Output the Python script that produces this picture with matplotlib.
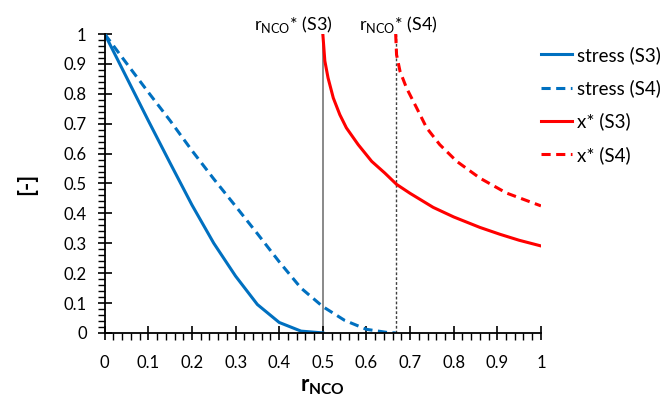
import matplotlib
matplotlib.use("Agg")
import matplotlib.pyplot as plt
from matplotlib.ticker import MultipleLocator

plt.rcParams["font.family"] = ["Lato", "DejaVu Sans"]

# values
r_s3 = [0.0, 0.05, 0.1, 0.15, 0.2, 0.25, 0.3, 0.35, 0.4, 0.45, 0.5]
stress_s3 = [1.0, 0.855, 0.71, 0.568, 0.428, 0.30, 0.19, 0.095, 0.035, 0.006, 0.0]

r_s4 = [0.0, 0.05, 0.1, 0.15, 0.2, 0.25, 0.3, 0.35, 0.4, 0.45, 0.5, 0.55, 0.6, 0.65, 0.667]
stress_s4 = [1.0, 0.902, 0.805, 0.71, 0.61, 0.515, 0.424, 0.332, 0.238, 0.15, 0.088, 0.042,
             0.012, 0.001, 0.0]

rx_s3 = [0.5, 0.5046, 0.512, 0.524, 0.539, 0.554, 0.581, 0.612, 0.642, 0.669, 0.7, 0.753,
         0.8, 0.86, 0.906, 0.95, 1.0]
xstar_s3 = [1.0, 0.91, 0.853, 0.786, 0.73, 0.686, 0.63, 0.574, 0.535, 0.497, 0.467, 0.42,
            0.388, 0.353, 0.33, 0.31, 0.291]

rx_s4 = [0.667, 0.669, 0.677, 0.692, 0.715, 0.738, 0.768, 0.807, 0.86, 0.921, 1.0]
xstar_s4 = [1.0, 0.931, 0.875, 0.819, 0.753, 0.686, 0.63, 0.574, 0.518, 0.468, 0.425]

r_crit = [0.5, 0.667]
crit_labels = [r"r$_{\mathregular{NCO}}$* (S3)", r"r$_{\mathregular{NCO}}$* (S4)"]
label_x = [0.432, 0.674]

blue = "#0070C0"
red = "#FF0000"

fig = plt.figure(figsize=(6.67, 4.05), dpi=100)
ax = fig.add_axes([0.157, 0.178, 0.654, 0.738])

kw = dict(lw=2.2, solid_joinstyle="round", dash_joinstyle="round")
ax.plot(r_s3, stress_s3, color=blue, label="stress (S3)", **kw)
ax.plot(r_s4, stress_s4, color=blue, ls=(0, (3, 1.8)), label="stress (S4)", **kw)
ax.plot(rx_s3, xstar_s3, color=red, label="x* (S3)", **kw)
ax.plot(rx_s4, xstar_s4, color=red, ls=(0, (3, 1.8)), label="x* (S4)", **kw)

ax.plot([r_crit[0]] * 2, [0, 1], color="#808080", lw=1.3, zorder=1)
ax.plot([r_crit[1]] * 2, [0, 1], color="#404040", lw=1, ls=(0, (2, 1.5)), zorder=1)
for lx, lab in zip(label_x, crit_labels):
    ax.text(lx, 1.033, lab, ha="center", va="center", fontsize=13,
            transform=ax.get_xaxis_transform())

ax.set_xlim(0, 1)
ax.set_ylim(0, 1)
ax.xaxis.set_major_locator(MultipleLocator(0.1))
ax.xaxis.set_minor_locator(MultipleLocator(0.02))
ax.yaxis.set_major_locator(MultipleLocator(0.1))
ax.yaxis.set_minor_locator(MultipleLocator(0.02))
fmt = lambda v, p: f"{v:.1f}".rstrip("0").rstrip(".") if round(v, 3) not in (0, 1) else f"{round(v)}"
ax.xaxis.set_major_formatter(fmt)
ax.yaxis.set_major_formatter(fmt)
ax.tick_params(which="major", direction="inout", length=10, width=1.2, labelsize=12)
ax.tick_params(axis="x", which="major", pad=11)
ax.tick_params(axis="y", which="major", pad=8)
ax.tick_params(which="minor", direction="out", length=5, width=1)
for s in ("top", "right"):
    ax.spines[s].set_visible(False)
for s in ("left", "bottom"):
    ax.spines[s].set_linewidth(1.3)

ax.set_xlabel(r"r$_{\mathregular{NCO}}$", fontsize=16, fontweight="bold", va="center")
ax.set_ylabel("[-]", fontsize=16, fontweight="bold", va="center")
ax.xaxis.set_label_coords(0.5, -0.178)
ax.yaxis.set_label_coords(-0.179, 0.5)

ax.legend(loc="upper left", bbox_to_anchor=(1.0, 0.96), frameon=False, fontsize=13.5,
          handlelength=1.65, handletextpad=0.25, labelspacing=0.82, borderaxespad=0,
          borderpad=0)

fig.savefig("out.png", dpi=100)
